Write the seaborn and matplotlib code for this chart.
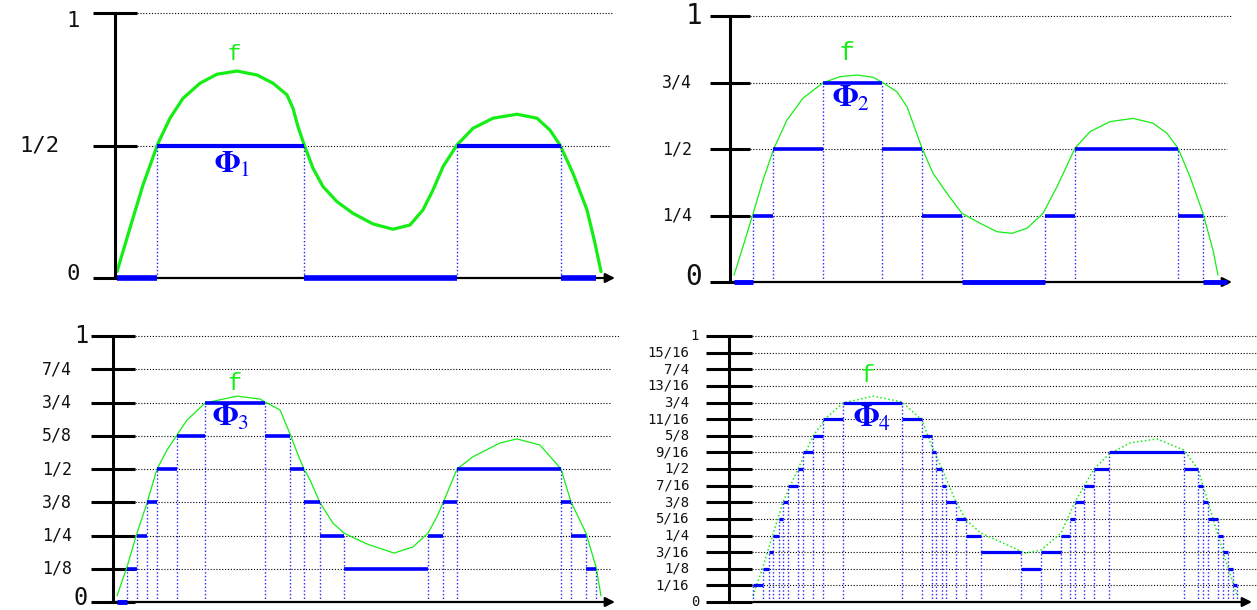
import matplotlib
matplotlib.use("Agg")
import matplotlib.pyplot as plt
import seaborn as sns

sns.set_style("white")
plt.rcParams["mathtext.fontset"] = "stix"

# ---------------- data ----------------
# Panel 1 : Phi_1 (levels in units of 1/2)
p1_curve_x = [2, 15, 28, 43, 55, 68, 85, 102, 122, 142, 158, 172, 178, 183, 189, 198, 208, 222,
              238, 258, 278, 295, 308, 318, 328, 342, 358, 378, 402, 422, 435, 445, 458, 472,
              480, 486]
p1_curve_y = [0.024, 0.189, 0.351, 0.508, 0.603, 0.678, 0.735, 0.769, 0.781, 0.766, 0.735, 0.691,
              0.640, 0.571, 0.505, 0.414, 0.345, 0.288, 0.244, 0.204, 0.184, 0.200, 0.257, 0.332,
              0.420, 0.502, 0.565, 0.603, 0.618, 0.603, 0.558, 0.502, 0.395, 0.257, 0.131, 0.024]
p1_breaks = [2, 42, 189, 342, 446, 481]
p1_levels = [0, 1, 0, 1, 0]
p1_labels = ["0", "1/2", "1"]

# Panel 2 : Phi_2 (levels in units of 1/4)
p2_curve_x = [4, 13, 23, 33, 44, 57, 73, 93, 110, 127, 143, 153, 167, 177, 183, 192, 203, 217,
              232, 250, 267, 282, 297, 313, 327, 345, 360, 380, 403, 423, 437, 448, 460, 473,
              483, 488]
p2_curve_y = [0.026, 0.133, 0.256, 0.383, 0.503, 0.609, 0.691, 0.749, 0.772, 0.778, 0.770, 0.749,
              0.715, 0.659, 0.597, 0.503, 0.409, 0.333, 0.258, 0.221, 0.189, 0.183, 0.202, 0.258,
              0.358, 0.503, 0.565, 0.603, 0.615, 0.597, 0.559, 0.503, 0.396, 0.258, 0.120, 0.026]
p2_breaks = [4, 23, 43, 93, 152, 192, 232, 315, 345, 448, 473, 497]
p2_levels = [0, 1, 2, 3, 2, 1, 0, 1, 2, 1, 0]
p2_labels = ["0", "1/4", "1/2", "3/4", "1"]

# Panel 3 : Phi_3 (levels in units of 1/8)
p3_curve_x = [4, 14, 24, 34, 44, 54, 64, 74, 92, 124, 147, 152, 167, 177, 185, 191, 197, 207,
              220, 231, 254, 281, 300, 315, 324, 330, 344, 360, 387, 404, 427, 448, 458, 473,
              483, 488]
p3_curve_y = [0.023, 0.132, 0.259, 0.372, 0.500, 0.571, 0.628, 0.684, 0.748, 0.774, 0.763, 0.752,
              0.722, 0.632, 0.553, 0.500, 0.459, 0.373, 0.296, 0.259, 0.218, 0.184, 0.207, 0.259,
              0.321, 0.372, 0.500, 0.546, 0.598, 0.613, 0.590, 0.500, 0.376, 0.259, 0.132, 0.023]
p3_breaks = [4, 14, 24, 34, 44, 64, 92, 152, 177, 191, 207, 231, 315, 330, 344, 448, 458, 473, 483]
p3_levels = [0, 1, 2, 3, 4, 5, 6, 5, 4, 3, 2, 1, 2, 3, 4, 3, 2, 1]
p3_labels = ["0", "1/8", "1/4", "3/8", "1/2", "5/8", "3/4", "7/4", "1"]

# Panel 4 : Phi_4 (levels in units of 1/16)
p4_curve_x = [24, 34, 44, 54, 69, 84, 98, 114, 144, 173, 193, 203, 213, 227, 237, 252, 274, 296,
              312, 332, 346, 365, 380, 401, 428, 455, 469, 479, 494, 508]
p4_curve_y = [0.023, 0.132, 0.256, 0.376, 0.500, 0.624, 0.695, 0.748, 0.774, 0.752, 0.684, 0.583,
              0.500, 0.376, 0.308, 0.259, 0.222, 0.184, 0.195, 0.259, 0.376, 0.500, 0.556, 0.598,
              0.613, 0.571, 0.500, 0.376, 0.188, 0.026]
p4_breaks = [24, 34, 40, 44, 50, 54, 59, 69, 74, 84, 94, 114, 173, 193, 203, 207, 213, 217, 227,
             237, 252, 292, 312, 332, 341, 346, 355, 365, 380, 455, 469, 474, 479, 489, 494, 499,
             504, 508]
p4_levels = [1, 2, 3, 4, 5, 6, 7, 8, 9, 10, 11, 12, 11, 10, 9, 8, 7, 6, 5, 4, 3, 2, 3, 4, 5, 6,
             7, 8, 9, 8, 7, 6, 5, 4, 3, 2, 1]
p4_labels = ["0", "1/16", "1/8", "3/16", "1/4", "5/16", "3/8", "7/16", "1/2", "9/16", "5/8",
             "11/16", "3/4", "13/16", "7/4", "15/16", "1"]

# ---------------- drawing ----------------
W, H = 1257, 610
fig = plt.figure(figsize=(W / 100, H / 100), dpi=100)
fig.patch.set_facecolor("white")

GREEN = "#14ee14"
BLUE = "#0000ff"
VBLUE = "#2222ff"
DOT = (0, (1, 1.6))


def panel(rect, R, cx, cy, breaks, levels, n, labels, st):
    x0, y0, y1 = rect
    ax = fig.add_axes([x0 / W, (H - y0) / H, R / W, (y0 - y1) / H])
    ax.set_xlim(0, R)
    ax.set_ylim(0, 1)
    ax.patch.set_alpha(0)
    for s in ["top", "right", "bottom"]:
        ax.spines[s].set_visible(False)
    ax.spines["left"].set_linewidth(2.2)
    ax.spines["left"].set_color("black")
    ax.spines["left"].set_bounds(0, 1)
    ax.set_xticks([])
    ticks = [k / 2 ** n for k in range(2 ** n + 1)]
    ax.set_yticks(ticks)
    ax.tick_params(axis="y", which="major", left=True, direction="inout",
                   length=st["tick_len"], width=2.2, color="black", labelleft=False)

    # dotted grid lines
    g0, g1 = st["grid"]
    for t in ticks[1:]:
        ax.hlines(t, g0, g1 if t < 1 else st["grid_top"], colors="black",
                  linestyles=DOT, lw=0.8, zorder=1, clip_on=False)

    # x axis with arrow
    ax.annotate("", xy=(R, 0), xytext=(st["xstart"], 0),
                arrowprops=dict(arrowstyle="-|>", color="black", lw=1.6,
                                mutation_scale=14, shrinkA=0, shrinkB=0),
                annotation_clip=False, zorder=3)

    # tick labels
    for t, lab in zip(ticks, labels):
        big = lab in ("0", "1")
        ty, va = t, "center"
        if lab == "1":
            ty = st.get("one_y", 1.0)
        if lab == "0":
            ty = st.get("zero_y", 0.0)
            va = st.get("zero_va", "center")
        ax.text(st["lab_big_x"] if big else st["lab_x"], ty, lab,
                ha="right", va=va,
                fontsize=st["big_fs"] if big else st["fs"],
                family="DejaVu Sans Mono", color="#111111", clip_on=False)

    # green curve
    sns.lineplot(x=cx, y=cy, ax=ax, color=GREEN, lw=st["curve_lw"],
                 linestyle=st["curve_ls"], sort=False, estimator=None,
                 legend=False, zorder=2)

    # blue dotted verticals
    m = len(levels)
    for j, bx in enumerate(breaks):
        left = levels[j - 1] if j > 0 else 0
        right = levels[j] if j < m else 0
        top = max(left, right) / 2 ** n
        if top > 0:
            ax.vlines(bx, 0, top, colors=VBLUE, linestyles=DOT, lw=1.0,
                      zorder=2, clip_on=False)

    # step bars
    for j, lev in enumerate(levels):
        lw = st["bar_lw"] * (1.35 if lev == 0 else 1.0)
        ax.hlines(lev / 2 ** n, breaks[j], breaks[j + 1], colors=BLUE, lw=lw,
                  zorder=4, clip_on=False)

    # labels f and Phi
    fx, fy = st["f_pos"]
    ax.text(fx, fy, "f", color=GREEN, fontsize=st["f_fs"], family="Liberation Mono",
            ha="center", va="center", clip_on=False)
    px, py = st["phi_pos"]
    ax.text(px, py, r"$\mathbf{\Phi}_{%d}$" % n, color=BLUE, fontsize=st["phi_fs"],
            ha="center", va="center", clip_on=False, zorder=5)
    return ax


panel((115, 278, 13), 500, p1_curve_x, p1_curve_y, p1_breaks, p1_levels, 1, p1_labels,
      dict(tick_len=32, grid=(22, 495), grid_top=498, xstart=0, lab_x=-55, lab_big_x=-35,
           fs=16, big_fs=16, one_y=0.97, zero_y=0.015, curve_lw=2.3, curve_ls="-", bar_lw=3.0,
           f_pos=(119, 0.845), f_fs=16, phi_pos=(117, 0.43), phi_fs=22))

panel((730, 282, 16), 502, p2_curve_x, p2_curve_y, p2_breaks, p2_levels, 2, p2_labels,
      dict(tick_len=29, grid=(20, 497), grid_top=502, xstart=0, lab_x=-38, lab_big_x=-28,
           fs=12, big_fs=20, zero_y=0.02, curve_lw=0.9, curve_ls="-", bar_lw=2.6,
           f_pos=(117, 0.861), f_fs=18, phi_pos=(121, 0.69), phi_fs=22))

panel((113, 602, 336), 502, p3_curve_x, p3_curve_y, p3_breaks, p3_levels, 3, p3_labels,
      dict(tick_len=32, grid=(22, 497), grid_top=507, xstart=0, lab_x=-41, lab_big_x=-25,
           fs=12, big_fs=17, zero_y=-0.012, zero_va="baseline", curve_lw=0.9, curve_ls="-",
           bar_lw=2.6, f_pos=(121, 0.823), f_fs=17, phi_pos=(118, 0.695), phi_fs=22))

panel((729, 602, 336), 523, p4_curve_x, p4_curve_y, p4_breaks, p4_levels, 4, p4_labels,
      dict(tick_len=33, grid=(23, 528), grid_top=528, xstart=24, lab_x=-40, lab_big_x=-30,
           fs=10, big_fs=10, curve_lw=1.1, curve_ls=DOT, bar_lw=2.3,
           f_pos=(138, 0.853), f_fs=17, phi_pos=(143, 0.692), phi_fs=22))

fig.savefig("out.png", dpi=100, facecolor="white")
